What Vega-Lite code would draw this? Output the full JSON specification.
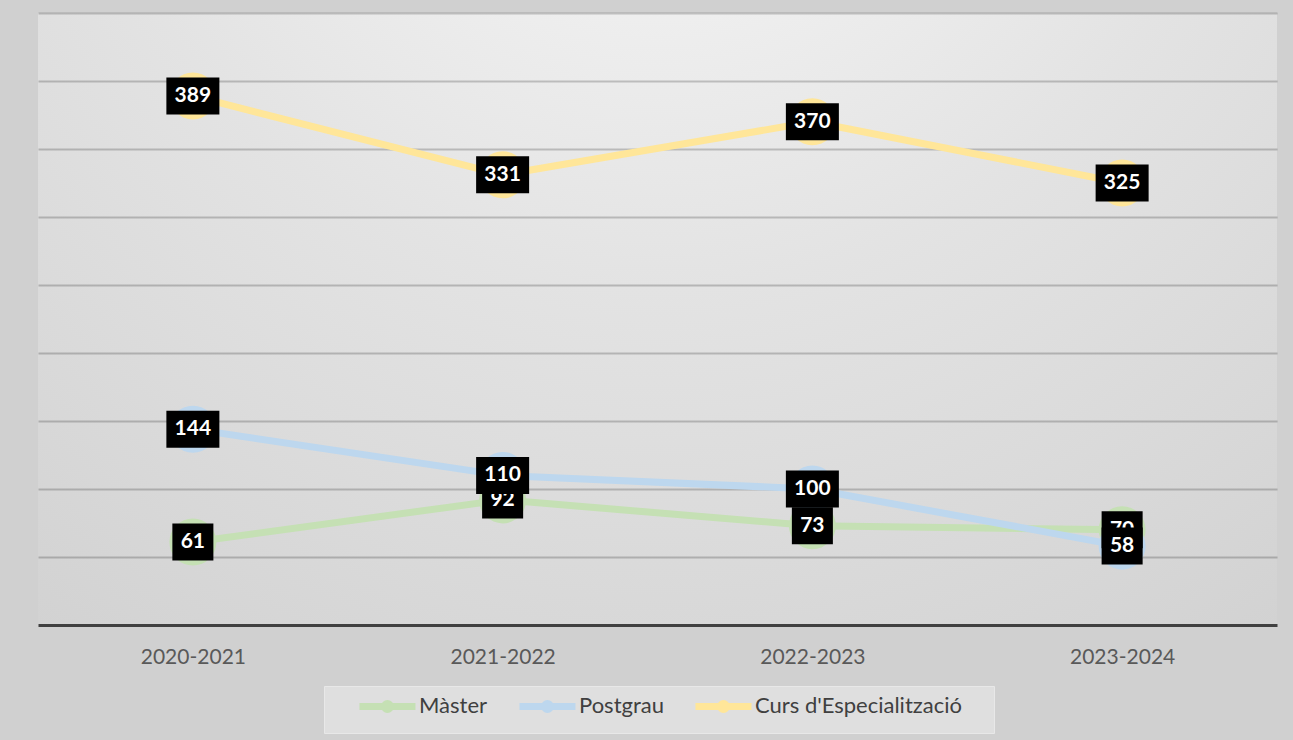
{
  "$schema": "https://vega.github.io/schema/vega-lite/v6.json",
  "width": 1239,
  "height": 612,
  "autosize": {"type": "none"},
  "padding": {"left": 38, "top": 13, "right": 16, "bottom": 115},
  "background": "#d0d0d0",
  "config": {
    "view": {
      "stroke": null,
      "fill": {
        "gradient": "radial",
        "x1": 0.5, "y1": 0, "r1": 0,
        "x2": 0.5, "y2": 0, "r2": 0.95,
        "stops": [
          {"offset": 0, "color": "#fbfbfb"},
          {"offset": 0.5, "color": "#e3e3e3"},
          {"offset": 1, "color": "#d0d0d0"}
        ]
      }
    },
    "font": "Lato"
  },
  "data": {
    "values": [
      {"year": "2020-2021", "series": "Màster", "value": 61},
      {"year": "2021-2022", "series": "Màster", "value": 92},
      {"year": "2022-2023", "series": "Màster", "value": 73},
      {"year": "2023-2024", "series": "Màster", "value": 70},
      {"year": "2020-2021", "series": "Postgrau", "value": 144},
      {"year": "2021-2022", "series": "Postgrau", "value": 110},
      {"year": "2022-2023", "series": "Postgrau", "value": 100},
      {"year": "2023-2024", "series": "Postgrau", "value": 58},
      {"year": "2020-2021", "series": "Curs d'Especialització", "value": 389},
      {"year": "2021-2022", "series": "Curs d'Especialització", "value": 331},
      {"year": "2022-2023", "series": "Curs d'Especialització", "value": 370},
      {"year": "2023-2024", "series": "Curs d'Especialització", "value": 325}
    ]
  },
  "encoding": {
    "x": {
      "field": "year", "type": "ordinal",
      "scale": {"type": "point", "padding": 0.5},
      "axis": {
        "title": null, "ticks": false, "labelAngle": 0,
        "domainColor": "#404040", "domainWidth": 3,
        "labelFont": "Lato", "labelFontSize": 21, "labelColor": "#595959",
        "labelPadding": 21, "grid": false
      }
    },
    "y": {
      "field": "value", "type": "quantitative",
      "scale": {"domain": [0, 450], "nice": false, "zero": true},
      "axis": {
        "title": null, "labels": false, "ticks": false, "domain": false,
        "values": [50, 100, 150, 200, 250, 300, 350, 400, 450],
        "grid": true, "gridColor": "#000000", "gridOpacity": 0.2, "gridWidth": 2
      }
    }
  },
  "layer": [
    {
      "mark": {"type": "line", "strokeWidth": 7, "strokeCap": "round", "strokeJoin": "round"},
      "encoding": {
        "color": {
          "field": "series", "type": "nominal",
          "scale": {
            "domain": ["Màster", "Postgrau", "Curs d'Especialització"],
            "range": ["#c5e0b4", "#bdd7ee", "#ffe699"]
          },
          "legend": {
            "title": null,
            "orient": "none",
            "legendX": 286,
            "legendY": 673,
            "direction": "horizontal",
            "fillColor": "#dfdfdf",
            "strokeColor": "#e8e8e8",
            "padding": 9,
            "symbolType": "M2.21,0L10.21,0M5.78,0A0.43,0.43 0 1,0 6.64,0A0.43,0.43 0 1,0 5.78,0",
            "symbolSize": 196,
            "symbolStrokeWidth": 7,
            "symbolOpacity": 1,
            "labelFont": "Lato",
            "labelFontSize": 22,
            "labelColor": "#404040",
            "labelOffset": 64,
            "columnPadding": 5,
            "labelLimit": 400,
            "labelExpr": "indexof(datum.label, 'Curs') === 0 ? datum.label + '\u00a0\u00a0\u00a0\u00a0\u2060' : datum.label"
          }
        },
        "detail": {"field": "series"}
      }
    },
    {
      "mark": {"type": "point", "filled": true, "opacity": 1, "size": 2209, "shape": "circle", "strokeWidth": 0},
      "encoding": {
        "color": {"field": "series", "type": "nominal", "legend": null}
      }
    },
    {
      "transform": [{"filter": "datum.series === 'Màster'"}],
      "mark": {"type": "point", "filled": true, "opacity": 1, "size": 2809, "color": "#000000"},
      "encoding": {
        "shape": {
          "condition": {"test": "datum.value < 100", "value": "M-0.774,-0.698L0.774,-0.698L0.774,0.698L-0.774,0.698Z"},
          "value": "M-1,-0.698L1,-0.698L1,0.698L-1,0.698Z"
        }
      }
    },
    {
      "transform": [{"filter": "datum.series === 'Màster'"}],
      "mark": {"type": "text", "color": "#ffffff", "font": "Lato", "fontSize": 21, "fontWeight": "bold", "align": "center", "baseline": "middle"},
      "encoding": {"text": {"field": "value", "type": "quantitative"}}
    },
    {
      "transform": [{"filter": "datum.series === 'Postgrau'"}],
      "mark": {"type": "point", "filled": true, "opacity": 1, "size": 2809, "color": "#000000"},
      "encoding": {
        "shape": {
          "condition": {"test": "datum.value < 100", "value": "M-0.774,-0.698L0.774,-0.698L0.774,0.698L-0.774,0.698Z"},
          "value": "M-1,-0.698L1,-0.698L1,0.698L-1,0.698Z"
        }
      }
    },
    {
      "transform": [{"filter": "datum.series === 'Postgrau'"}],
      "mark": {"type": "text", "color": "#ffffff", "font": "Lato", "fontSize": 21, "fontWeight": "bold", "align": "center", "baseline": "middle"},
      "encoding": {"text": {"field": "value", "type": "quantitative"}}
    },
    {
      "transform": [{"filter": "datum.series === \"Curs d'Especialització\""}],
      "mark": {"type": "point", "filled": true, "opacity": 1, "size": 2809, "color": "#000000"},
      "encoding": {
        "shape": {
          "condition": {"test": "datum.value < 100", "value": "M-0.774,-0.698L0.774,-0.698L0.774,0.698L-0.774,0.698Z"},
          "value": "M-1,-0.698L1,-0.698L1,0.698L-1,0.698Z"
        }
      }
    },
    {
      "transform": [{"filter": "datum.series === \"Curs d'Especialització\""}],
      "mark": {"type": "text", "color": "#ffffff", "font": "Lato", "fontSize": 21, "fontWeight": "bold", "align": "center", "baseline": "middle"},
      "encoding": {"text": {"field": "value", "type": "quantitative"}}
    }
  ]
}
